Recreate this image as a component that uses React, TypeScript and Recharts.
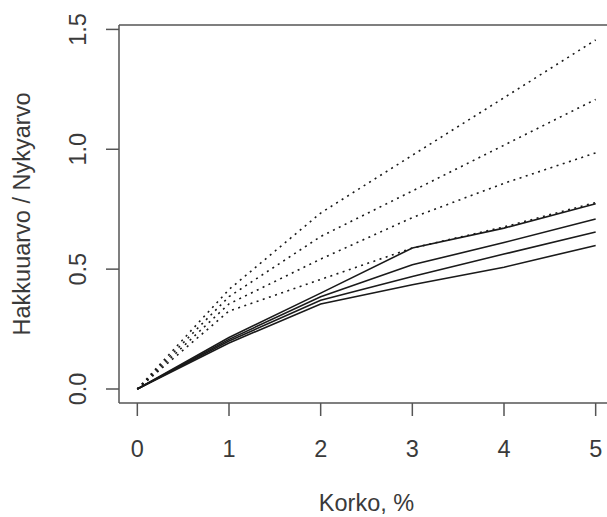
import { Line, LineChart, ReferenceLine, XAxis, YAxis } from "recharts";

// Korko (%) on the x axis
const korko = [0, 1, 2, 3, 4, 5];

// dotted series
const dotted1 = [0, 0.415, 0.734, 0.975, 1.215, 1.456];
const dotted2 = [0, 0.385, 0.636, 0.826, 1.017, 1.208];
const dotted3 = [0, 0.355, 0.542, 0.715, 0.858, 0.985];
const dotted4 = [0, 0.325, 0.457, 0.588, 0.676, 0.778];

// solid series
const solid1 = [0, 0.215, 0.4, 0.588, 0.671, 0.773];
const solid2 = [0, 0.207, 0.385, 0.518, 0.611, 0.709];
const solid3 = [0, 0.2, 0.37, 0.469, 0.563, 0.655];
const solid4 = [0, 0.192, 0.355, 0.435, 0.508, 0.599];

const xTicks = [0, 1, 2, 3, 4, 5];
const yTicks = [0, 0.5, 1, 1.5];

const data = korko.map((k, i) => ({
  korko: k,
  d1: dotted1[i],
  d2: dotted2[i],
  d3: dotted3[i],
  d4: dotted4[i],
  s1: solid1[i],
  s2: solid2[i],
  s3: solid3[i],
  s4: solid4[i],
}));

const font = "'Liberation Sans', Arial, sans-serif";
const textColor = "#3a3a3a";
const boxColor = "#555";
const yMax = 1.46 * 1.04;
const yMin = -1.46 * 0.04;

function YTick(props: any) {
  const { y, payload } = props;
  const bx = 86;
  return (
    <text
      x={bx}
      y={y}
      transform={`rotate(-90, ${bx}, ${y})`}
      textAnchor="middle"
      fontSize={23.5}
      fontFamily={font}
      fill={textColor}
    >
      {payload.value.toFixed(1)}
    </text>
  );
}

export default function App() {
  const dottedKeys = ["d1", "d2", "d3", "d4"];
  const solidKeys = ["s1", "s2", "s3", "s4"];
  return (
    <div style={{ position: "absolute", left: 0, top: 0, width: 607, height: 517, overflow: "hidden", background: "#fff" }}>
      <LineChart width={620} height={517} data={data} margin={{ top: 25, right: 6, bottom: 0, left: 0 }}>
        <XAxis
          dataKey="korko"
          type="number"
          domain={[-0.2, 5.2]}
          ticks={xTicks}
          allowDataOverflow
          height={114}
          tickSize={13}
          tickMargin={24}
          stroke={boxColor}
          strokeWidth={1.5}
          tick={{ fontSize: 23.5, fontFamily: font, fill: textColor }}
          label={(p: any) => (
            <text x={366.5} y={511} textAnchor="middle" fontSize={23.5} fontFamily={font} fill={textColor}>
              Korko, %
            </text>
          )}
        />
        <YAxis
          type="number"
          domain={[yMin, yMax]}
          ticks={yTicks}
          allowDataOverflow
          width={119}
          tickSize={13}
          stroke={boxColor}
          strokeWidth={1.5}
          tick={<YTick />}
          label={(p: any) => (
            <text
              x={30}
              y={214}
              transform="rotate(-90, 30, 214)"
              textAnchor="middle"
              fontSize={23.5}
              fontFamily={font}
              fill={textColor}
            >
              Hakkuuarvo / Nykyarvo
            </text>
          )}
        />
        <ReferenceLine y={yMax} stroke={boxColor} strokeWidth={1.5} ifOverflow="extendDomain" />
        {solidKeys.map((k) => (
          <Line key={k} dataKey={k} stroke="#1a1a1a" strokeWidth={1.6} dot={false} isAnimationActive={false} />
        ))}
        {dottedKeys.map((k) => (
          <Line
            key={k}
            dataKey={k}
            stroke="#1a1a1a"
            strokeWidth={1.6}
            strokeDasharray="2 4.5"
            dot={false}
            isAnimationActive={false}
          />
        ))}
      </LineChart>
    </div>
  );
}
